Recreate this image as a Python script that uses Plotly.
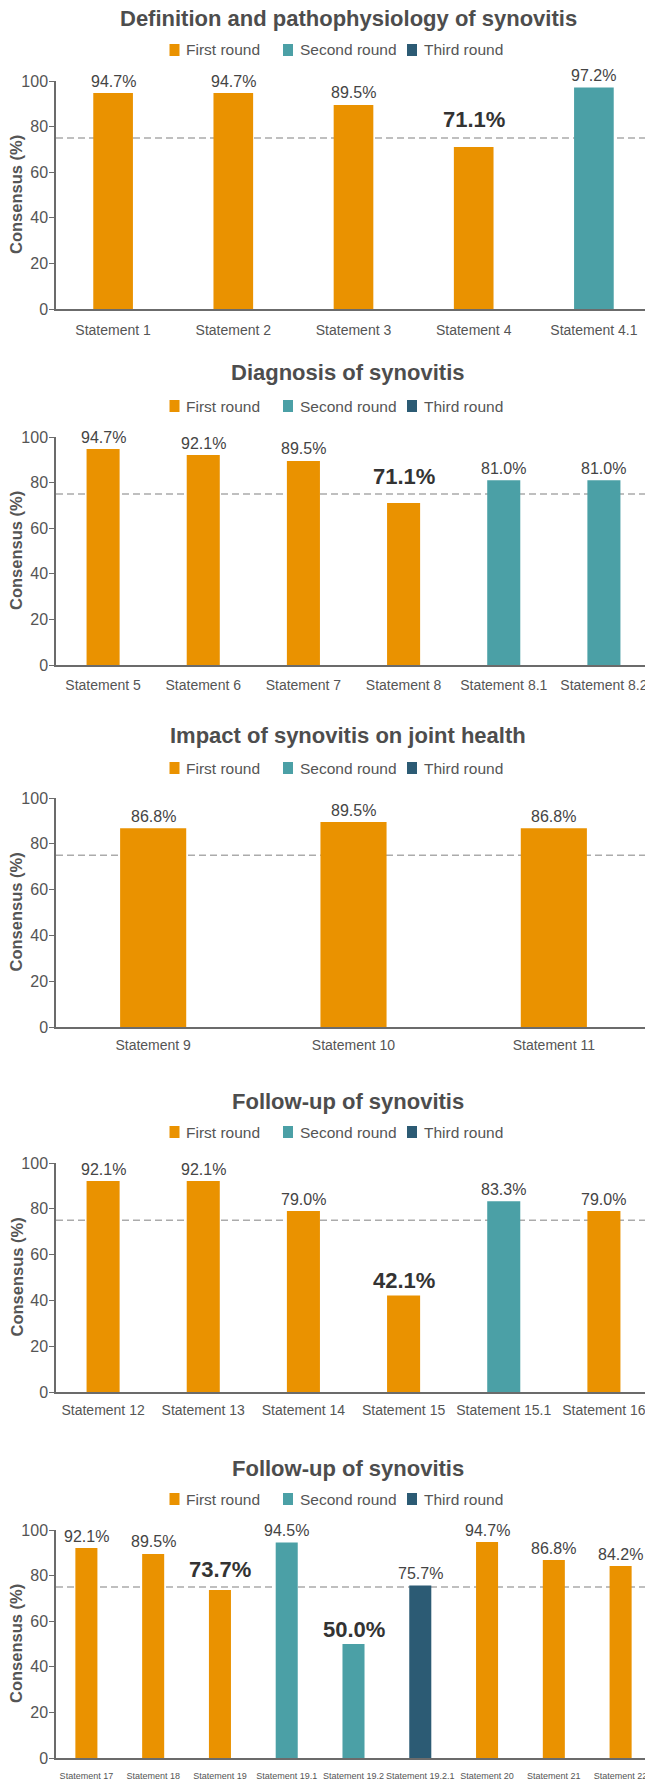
import plotly.graph_objects as go

# ---------------- data ----------------
round_names = ["First round", "Second round", "Third round"]
round_colors = ["#EA9200", "#4BA0A6", "#2C5B74"]
threshold = 75

titles = [
    "Definition and pathophysiology of synovitis",
    "Diagnosis of synovitis",
    "Impact of synovitis on joint health",
    "Follow-up of synovitis",
    "Follow-up of synovitis",
]

statements_1 = ["Statement 1", "Statement 2", "Statement 3", "Statement 4", "Statement 4.1"]
values_1 = [94.7, 94.7, 89.5, 71.1, 97.2]
rounds_1 = [1, 1, 1, 1, 2]

statements_2 = ["Statement 5", "Statement 6", "Statement 7", "Statement 8", "Statement 8.1", "Statement 8.2"]
values_2 = [94.7, 92.1, 89.5, 71.1, 81.0, 81.0]
rounds_2 = [1, 1, 1, 1, 2, 2]

statements_3 = ["Statement 9", "Statement 10", "Statement 11"]
values_3 = [86.8, 89.5, 86.8]
rounds_3 = [1, 1, 1]

statements_4 = ["Statement 12", "Statement 13", "Statement 14", "Statement 15", "Statement 15.1", "Statement 16"]
values_4 = [92.1, 92.1, 79.0, 42.1, 83.3, 79.0]
rounds_4 = [1, 1, 1, 1, 2, 1]

statements_5 = ["Statement 17", "Statement 18", "Statement 19", "Statement 19.1", "Statement 19.2",
                "Statement 19.2.1", "Statement 20", "Statement 21", "Statement 22"]
values_5 = [92.1, 89.5, 73.7, 94.5, 50.0, 75.7, 94.7, 86.8, 84.2]
rounds_5 = [1, 1, 1, 2, 2, 3, 1, 1, 1]

yticks = [0, 20, 40, 60, 80, 100]

panels = [
    (statements_1, values_1, rounds_1),
    (statements_2, values_2, rounds_2),
    (statements_3, values_3, rounds_3),
    (statements_4, values_4, rounds_4),
    (statements_5, values_5, rounds_5),
]

# ---------------- layout geometry (pixels) ----------------
W, H = 645, 1780
AXIS_X = 56          # y-axis line position
ORIG_L, ORIG_R = 53, 654   # category band extent (chart is cropped at right)
TITLE_X = 348
# (y of 100 tick, y of 0 tick, title y, legend y, x tick font size, x tick standoff)
geom = [
    (81, 309, 19, 50, 14, 7),
    (437, 665, 373, 406, 14, 6),
    (798, 1027, 735, 768, 14, 4),
    (1163, 1392, 1101, 1132, 14, 4),
    (1530, 1758, 1468, 1499, 9, 8),
]
legend_sq_x = [169.5, 283, 407]
FONT = "Liberation Sans, Arial, sans-serif"
TXT = "#555555"
AXC = "#6b6b6b"


def px_x(x):
    return x / W


def px_y(y):
    return 1 - y / H


fig = go.Figure()
annotations = []
shapes = []

for i, ((stmts, vals, rnds), (y100, y0, ty, ly, tfs, tso)) in enumerate(zip(panels, geom)):
    k = "" if i == 0 else str(i + 1)
    xref, yref = "x" + k, "y" + k
    n = len(stmts)
    band = (ORIG_R - ORIG_L) / n
    lo = -0.5 + (AXIS_X - ORIG_L) / band
    hi = -0.5 + (W - ORIG_L) / band

    for r, (rname, rcol) in enumerate(zip(round_names, round_colors), start=1):
        xs = [s for s, rr in zip(stmts, rnds) if rr == r]
        ys = [v for v, rr in zip(vals, rnds) if rr == r]
        fig.add_trace(go.Bar(
            x=xs, y=ys, name=rname, marker=dict(color=rcol, line=dict(width=0)),
            width=0.33, xaxis=xref, yaxis=yref, showlegend=False, hoverinfo="skip",
        ))

    fig.update_layout(**{
        "xaxis" + k: dict(
            domain=[px_x(AXIS_X), 1], anchor=yref, type="category",
            categoryorder="array", categoryarray=stmts, range=[lo, hi],
            showline=True, linecolor=AXC, linewidth=1.5, ticks="", showgrid=False,
            zeroline=False, automargin=False, ticklabelstandoff=tso, tickangle=0,
            tickfont=dict(family=FONT, size=tfs, color=TXT), fixedrange=True,
        ),
        "yaxis" + k: dict(
            domain=[px_y(y0), px_y(y100)], anchor=xref, range=[0, 100],
            tickvals=yticks, ticks="outside", ticklen=5, tickwidth=1.2, tickcolor=AXC,
            showline=True, linecolor=AXC, linewidth=1.5, showgrid=False, zeroline=False,
            automargin=False, ticklabelstandoff=-2,
            tickfont=dict(family=FONT, size=16, color=TXT), fixedrange=True,
        ),
    })

    # threshold line
    shapes.append(dict(
        type="line", xref=xref + " domain", yref=yref, x0=0, x1=1, y0=threshold, y1=threshold,
        line=dict(color="#ababab", width=1.3, dash="7px,4px"), layer="below",
    ))

    # value labels (below-threshold values in bold; lifted above the threshold line
    # when the label would otherwise sit on it)
    for s, v in zip(stmts, vals):
        bold = v < threshold
        near_line = threshold - 8 < v < threshold
        if bold:
            anchor_y = threshold if near_line else v
            shift = 18 if near_line else 15
        else:
            anchor_y, shift = v, 12
        annotations.append(dict(
            x=s, y=anchor_y, xref=xref, yref=yref,
            text=f"<b>{v:.1f}%</b>" if bold else f"{v:.1f}%",
            showarrow=False, yanchor="middle", yshift=shift,
            font=dict(family=FONT, size=22 if bold else 16, color="#333333" if bold else "#444444"),
        ))

    # panel title
    annotations.append(dict(
        x=px_x(TITLE_X), y=px_y(ty), xref="paper", yref="paper", text=f"<b>{titles[i]}</b>",
        showarrow=False, xanchor="center", yanchor="middle",
        font=dict(family=FONT, size=22, color="#4d4d4d"),
    ))

    # y axis title
    annotations.append(dict(
        x=px_x(16), y=px_y((y0 + y100) / 2), xref="paper", yref="paper",
        text="<b>Consensus (%)</b>", textangle=-90, showarrow=False,
        xanchor="center", yanchor="middle",
        font=dict(family=FONT, size=16.5, color=TXT),
    ))

    # legend
    for sx, rname, rcol in zip(legend_sq_x, round_names, round_colors):
        shapes.append(dict(
            type="rect", xref="paper", yref="paper",
            x0=px_x(sx), x1=px_x(sx + 10), y0=px_y(ly + 6), y1=px_y(ly - 6),
            fillcolor=rcol, line=dict(width=0),
        ))
        annotations.append(dict(
            x=px_x(sx + 14.5), y=px_y(ly), xref="paper", yref="paper", text=rname,
            showarrow=False, xanchor="left", yanchor="middle",
            font=dict(family=FONT, size=15.5, color=TXT),
        ))

fig.update_layout(
    template="none",
    width=W, height=H, autosize=False,
    margin=dict(l=0, r=0, t=0, b=0, pad=0),
    barmode="overlay",
    paper_bgcolor="white", plot_bgcolor="white",
    showlegend=False,
    annotations=annotations, shapes=shapes,
    font=dict(family=FONT, color=TXT),
)

fig.write_html("out.html", config={"displayModeBar": False})
